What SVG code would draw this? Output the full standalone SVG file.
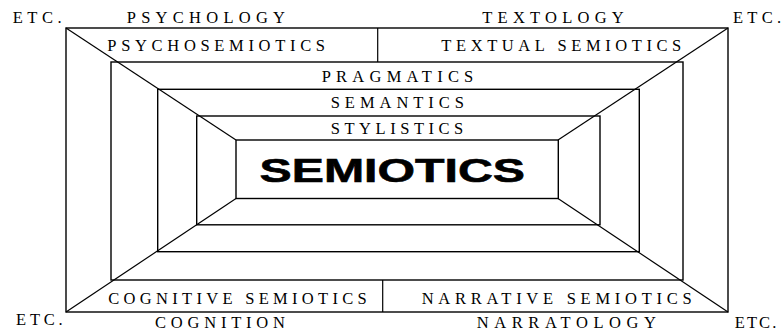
<svg xmlns="http://www.w3.org/2000/svg" width="783" height="334" viewBox="0 0 783 334">
<style>
.box{fill:none;stroke:#000;stroke-width:1.4}
.ln{stroke:#000;stroke-width:1.2;fill:none}
.t{font-family:"Liberation Serif","Times New Roman",serif;font-size:16.5px;fill:#000}
.big{font-family:"Liberation Sans",Arial,sans-serif;font-weight:bold;font-size:33.5px;fill:#000;stroke:#000;stroke-width:0.6}
</style>
<rect width="783" height="334" fill="#fff"/>
<g id="connectors">
<line class="ln" x1="66" y1="28" x2="236" y2="140"/>
<line class="ln" x1="728" y1="28" x2="558" y2="140"/>
<line class="ln" x1="66" y1="312" x2="236" y2="198.5"/>
<line class="ln" x1="728" y1="312" x2="558" y2="198.5"/>
<line class="ln" x1="377.7" y1="28" x2="377.7" y2="62"/>
<line class="ln" x1="382.7" y1="280" x2="382.7" y2="312"/>
</g>
<g id="outer"><rect class="box" x="66" y="28" width="662" height="284"/></g>
<g id="pragmatics-box"><rect class="box" x="111" y="62" width="572" height="218"/></g>
<g id="semantics-box"><rect class="box" x="157.7" y="89.3" width="481.6" height="162.4"/></g>
<g id="stylistics-box"><rect class="box" x="196.7" y="116" width="403.3" height="108.8"/></g>
<g id="semiotics"><rect class="box" x="236" y="140" width="322.3" height="58.5"/>
<text class="big" x="259.5" y="181.7" textLength="265.5" lengthAdjust="spacingAndGlyphs">SEMIOTICS</text></g>
<g id="labels">
<text class="t" x="12.7" y="22.7" textLength="49" lengthAdjust="spacing">ETC.</text>
<text class="t" x="126.7" y="22.7" textLength="158.3" lengthAdjust="spacing">PSYCHOLOGY</text>
<text class="t" x="482.3" y="22.7" textLength="141.4" lengthAdjust="spacing">TEXTOLOGY</text>
<text class="t" x="733" y="22.7" textLength="48" lengthAdjust="spacing">ETC.</text>
<text class="t" x="107.3" y="50.7" textLength="217.7" lengthAdjust="spacing">PSYCHOSEMIOTICS</text>
<text class="t" x="441.3" y="50.7" textLength="240" lengthAdjust="spacing">TEXTUAL SEMIOTICS</text>
<text class="t" x="321.7" y="81.7" textLength="151.6" lengthAdjust="spacing">PRAGMATICS</text>
<text class="t" x="330.7" y="107.5" textLength="133.3" lengthAdjust="spacing">SEMANTICS</text>
<text class="t" x="330.7" y="133.5" textLength="132.6" lengthAdjust="spacing">STYLISTICS</text>
<text class="t" x="108.3" y="304" textLength="258.4" lengthAdjust="spacing">COGNITIVE SEMIOTICS</text>
<text class="t" x="421.7" y="304" textLength="270" lengthAdjust="spacing">NARRATIVE SEMIOTICS</text>
<text class="t" x="16" y="325" textLength="46.7" lengthAdjust="spacing">ETC.</text>
<text class="t" x="155" y="327.7" textLength="130" lengthAdjust="spacing">COGNITION</text>
<text class="t" x="476.7" y="327.7" textLength="179.3" lengthAdjust="spacing">NARRATOLOGY</text>
<text class="t" x="734.7" y="328.3" textLength="41.6" lengthAdjust="spacing">ETC.</text>
</g>
</svg>
